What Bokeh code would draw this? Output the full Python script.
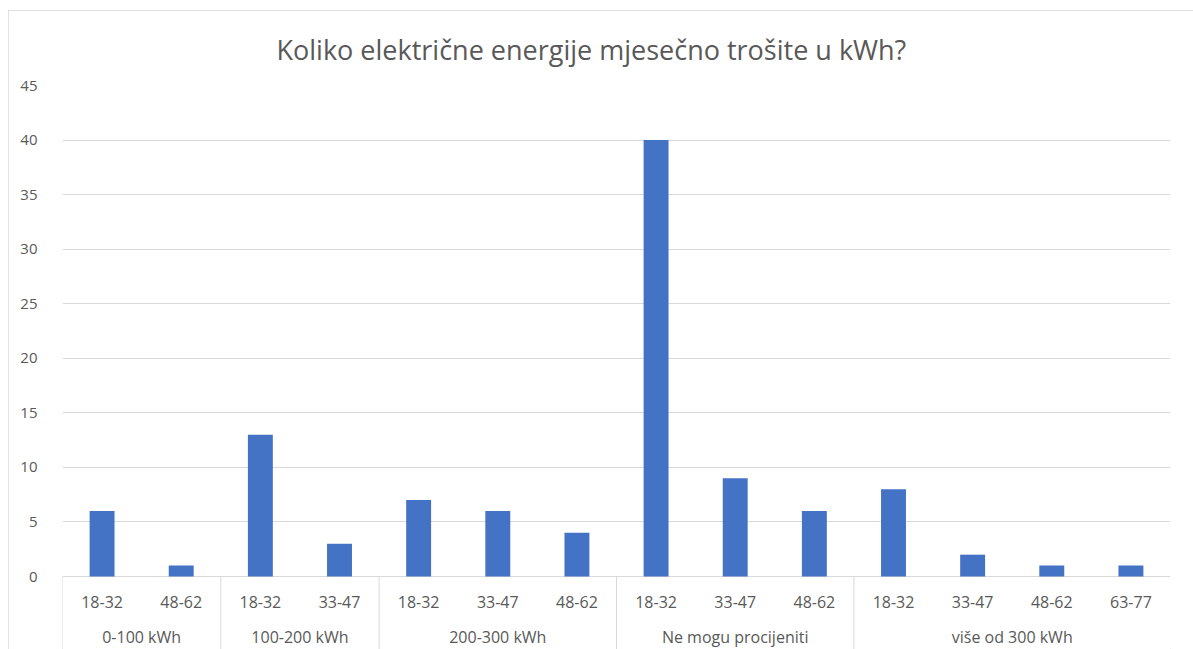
from bokeh.plotting import figure
from bokeh.models import FactorRange, Range1d, FixedTicker, ColumnDataSource, Title
from bokeh.core.properties import value
from bokeh.embed import file_html
from bokeh.resources import INLINE

title_text = "Koliko električne energije mjesečno trošite u kWh?"

groups = ["0-100 kWh", "100-200 kWh", "200-300 kWh", "Ne mogu procijeniti", "više od 300 kWh"]
subcats = [
    ["18-32", "48-62"],
    ["18-32", "33-47"],
    ["18-32", "33-47", "48-62"],
    ["18-32", "33-47", "48-62"],
    ["18-32", "33-47", "48-62", "63-77"],
]
counts = [
    [6, 1],
    [13, 3],
    [7, 6, 4],
    [40, 9, 6],
    [8, 2, 1, 1],
]
y_ticks = [0, 5, 10, 15, 20, 25, 30, 35, 40, 45]

factors = [(g, s) for g, subs in zip(groups, subcats) for s in subs]
vals = [v for vs in counts for v in vs]

TXT = "#595959"
FONT = "Open Sans"

px_per_unit = 491 / 45.0
y_bottom = -73 / px_per_unit

p = figure(
    width=1185, height=639,
    x_range=FactorRange(*factors, factor_padding=0, group_padding=0, subgroup_padding=0, range_padding=0),
    y_range=Range1d(y_bottom, 45),
    output_backend="svg", toolbar_location=None,
    min_border_left=54, min_border_right=23, min_border_top=75, min_border_bottom=0,
)
p.styles = {"margin-left": "8px", "margin-top": "10px",
            "outline": "1px solid #d9d9d9", "outline-offset": "-1px"}
p.outline_line_color = None
p.background_fill_color = "white"
p.border_fill_color = "white"

t = Title(text=title_text, align="left", offset=214, vertical_align="middle",
          text_font=FONT, text_font_size="27px", text_font_style="normal",
          text_color=TXT, standoff=34)
p.add_layout(t, "above")

src = ColumnDataSource(dict(x=factors, top=vals))
p.vbar(x="x", top="top", width=0.315, source=src, fill_color="#4472C4", line_color=None)

# y axis
p.yaxis.ticker = FixedTicker(ticks=y_ticks)
p.yaxis.axis_line_color = None
p.yaxis.major_tick_line_color = None
p.yaxis.minor_tick_line_color = None
p.yaxis.major_label_standoff = 19
p.yaxis.major_label_text_font = FONT
p.yaxis.major_label_text_font_size = "15px"
p.yaxis.major_label_text_color = TXT
p.ygrid.ticker = FixedTicker(ticks=y_ticks)
p.ygrid.grid_line_color = "#d9d9d9"
p.ygrid.grid_line_width = 1
p.xgrid.grid_line_color = None
p.xaxis.visible = False

# category separators (group boundaries, synthetic coordinates)
bounds = [0]
for subs in subcats:
    bounds.append(bounds[-1] + len(subs))
sep_x = bounds[:-1]
p.segment(x0=sep_x, x1=sep_x, y0=[0] * len(sep_x), y1=[y_bottom] * len(sep_x),
          line_color="#d9d9d9", line_width=1)

# sub labels
sub_y = -25 / px_per_unit
p.text(x=factors, y=[sub_y] * len(factors), text=[f[1] for f in factors],
       text_align="center", text_baseline="middle", text_font=value(FONT),
       text_font_size="16px", text_color=TXT)
grp_y = -60 / px_per_unit
p.text(x=groups, y=[grp_y] * len(groups), text=groups,
       text_align="center", text_baseline="middle", text_font=value(FONT),
       text_font_size="16px", text_color=TXT)

open("out.html", "w").write(file_html(p, INLINE))
